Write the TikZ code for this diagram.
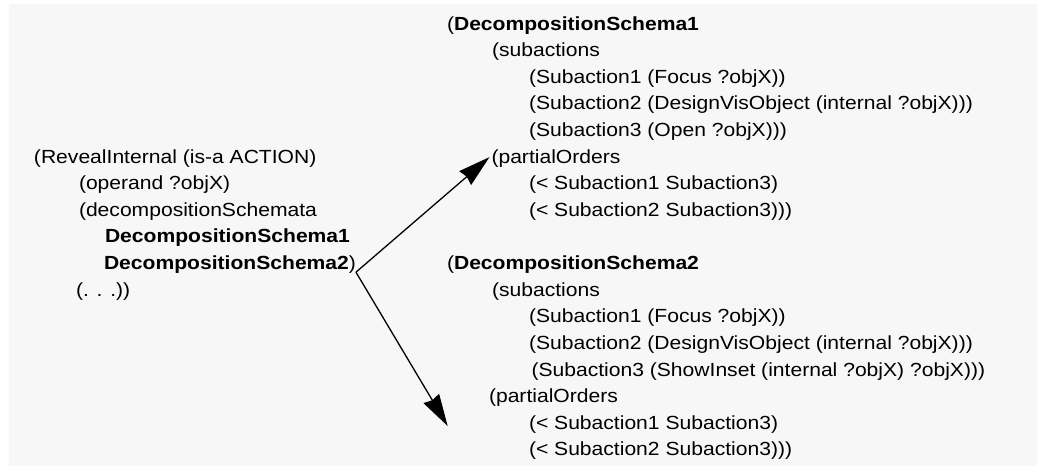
\documentclass[tikz,border=0pt]{standalone}
\usepackage{fontspec}
\setmainfont{Liberation Sans}[FakeStretch=1.11]
\usetikzlibrary{arrows.meta}
\definecolor{panel}{HTML}{F7F7F7}
\tikzset{
  code/.style={anchor=base west, inner sep=0pt, outer sep=0pt,
    font=\fontsize{19}{26}\selectfont, text=black},
  codebold/.style={code, font=\fontsize{19}{26}\selectfont\bfseries},
  link/.style={line width=1.3pt, -{Stealth[length=32pt,width=18pt,inset=2pt]}},
}
\newcommand{\lineY}[1]{30+26.62*#1}
\begin{document}
\begin{tikzpicture}[x=1pt,y=-1pt]
  \useasboundingbox (0,0) rectangle (1039,466);
  \fill[white] (0,0) rectangle (1039,466);
  \fill[panel] (9,4) rectangle (1037,466);

  % action definition
  \node[code] (l0) at (34,{\lineY{5}}) {(RevealInternal (is-a ACTION)};
  \node[code] (l1) at (79,{\lineY{6}}) {(operand ?objX)};
  \node[code] (l2) at (79,{\lineY{7}}) {(decompositionSchemata};
  \node[codebold] (l3) at (105,{\lineY{8}}) {DecompositionSchema1};
  \node[codebold] (l4) at (104,{\lineY{9}}) {DecompositionSchema2};
  \node[code] (l4p) at (l4.base east) {)};
  \node[code] (l5) at (76,{\lineY{10}}) {(. . .))};

  % first decomposition schema
  \node[code] (a0) at (447,{\lineY{0}}) {(\textbf{DecompositionSchema1}};
  \node[code] (a1) at (492,{\lineY{1}}) {(subactions};
  \node[code] (a2) at (529,{\lineY{2}}) {(Subaction1 (Focus ?objX))};
  \node[code] (a3) at (529,{\lineY{3}}) {(Subaction2 (DesignVisObject (internal ?objX)))};
  \node[code] (a4) at (529,{\lineY{4}}) {(Subaction3 (Open ?objX)))};
  \node[code] (a5) at (491.5,{\lineY{5}}) {(partialOrders};
  \node[code] (a6) at (529,{\lineY{6}}) {(< Subaction1 Subaction3)};
  \node[code] (a7) at (529,{\lineY{7}}) {(< Subaction2 Subaction3)))};

  % second decomposition schema
  \node[code] (b0) at (447,{\lineY{9}}) {(\textbf{DecompositionSchema2}};
  \node[code] (b1) at (492,{\lineY{10}}) {(subactions};
  \node[code] (b2) at (529,{\lineY{11}}) {(Subaction1 (Focus ?objX))};
  \node[code] (b3) at (529,{\lineY{12}}) {(Subaction2 (DesignVisObject (internal ?objX)))};
  \node[code] (b4) at (531.5,{\lineY{13}}) {(Subaction3 (ShowInset (internal ?objX) ?objX)))};
  \node[code] (b5) at (489,{\lineY{14}}) {(partialOrders};
  \node[code] (b6) at (529,{\lineY{15}}) {(< Subaction1 Subaction3)};
  \node[code] (b7) at (529,{\lineY{16}}) {(< Subaction2 Subaction3)))};

  % connectors
  \coordinate (fork) at ([yshift=-2.6pt]l4p.base east);
  \coordinate (tipA) at ([xshift=-2pt,yshift=6pt]a5.base west);
  \coordinate (tipB) at (447.7,426);
  \draw[link] (fork) -- (tipA);
  \draw[link] (fork) -- (tipB);
\end{tikzpicture}
\end{document}
